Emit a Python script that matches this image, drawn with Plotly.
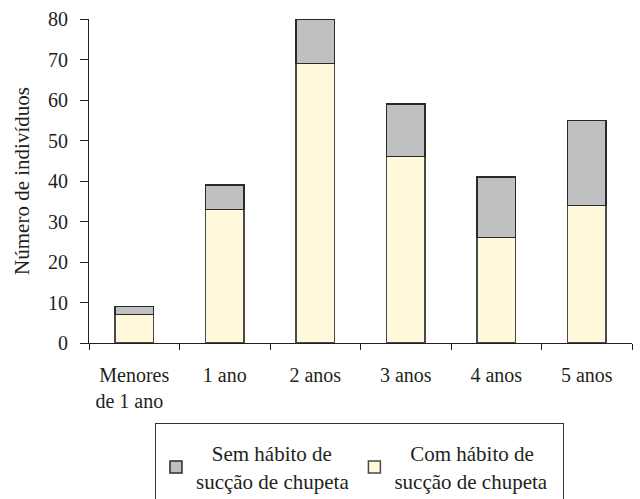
import plotly.graph_objects as go

# Age groups and counts of individuals by pacifier-sucking habit
zw = "\u200b"
nb = "\u00a0"
categories = ["Menores<br>de 1 ano" + nb * 2 + zw, "1 ano", "2 anos", "3 anos", "4 anos", "5 anos"]
com_habito = [7, 33, 69, 46, 26, 34]
sem_habito = [2, 6, 11, 13, 15, 21]

ink = "#231f20"
font_family = "Liberation Serif, DejaVu Serif, serif"
tick_size = 20
text_size = 21

fig = go.Figure()
fig.add_trace(go.Bar(
    x=categories, y=com_habito,
    name=zw + nb * 3 + "Com hábito de<br>sucção de chupeta" + nb * 2 + zw,
    marker=dict(color="#fff8da", line=dict(color="#4a4a4a", width=1.5)),
    width=0.43,
))
fig.add_trace(go.Bar(
    x=categories, y=sem_habito,
    name=zw + nb * 3 + "Sem hábito de<br>sucção de chupeta",
    marker=dict(color="#bfc0c2", line=dict(color="#2a2a2a", width=1.5)),
    width=0.43,
))

fig.update_layout(
    barmode="stack",
    width=640, height=499,
    margin=dict(l=89, r=8, t=19, b=156, autoexpand=False),
    paper_bgcolor="white", plot_bgcolor="white",
    font=dict(family=font_family, size=tick_size, color=ink),
    showlegend=True,
    legend=dict(
        orientation="h",
        traceorder="reversed",
        x=0.1215, y=-0.247, xanchor="left", yanchor="top",
        bordercolor="#333333", borderwidth=1,
        font=dict(family=font_family, size=text_size, color=ink),
        # a blank top-side title adds a little headroom above the entries
        title=dict(text=nb, side="top", font=dict(size=7)),
        itemwidth=30,
    ),
    xaxis=dict(
        type="category",
        tickson="boundaries",
        ticks="outside", ticklen=6, tickcolor=ink, tickwidth=1,
        ticklabelstandoff=14,
        showline=True, linecolor=ink, linewidth=1,
        showgrid=False, zeroline=False,
    ),
    yaxis=dict(
        range=[0, 80], dtick=10,
        ticks="outside", ticklen=8, tickcolor=ink, tickwidth=1,
        ticklabelstandoff=8,
        showline=True, linecolor=ink, linewidth=1,
        showgrid=False, zeroline=False,
        title=dict(text="Número de indivíduos", font=dict(size=text_size), standoff=12),
    ),
)

fig.write_html("out.html")
